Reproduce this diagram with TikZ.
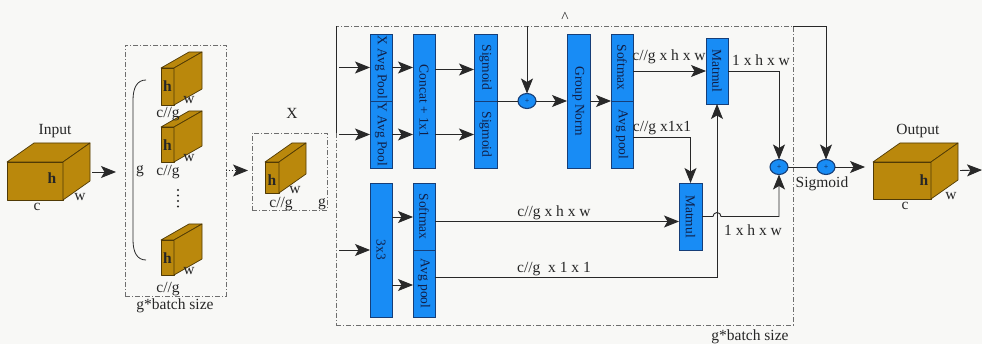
\documentclass[tikz,border=0pt]{standalone}
\usepackage{fontspec}
\setmainfont{Liberation Serif}
\usetikzlibrary{arrows.meta,shapes.geometric,calc}

\definecolor{bg}{RGB}{248,248,246}
\definecolor{blkfill}{RGB}{24,140,245}
\definecolor{blkline}{RGB}{22,62,120}
\definecolor{blktext}{RGB}{16,30,70}
\definecolor{gold}{RGB}{186,136,12}
\definecolor{goldline}{RGB}{80,58,5}
\definecolor{wire}{RGB}{40,40,40}
\definecolor{framec}{RGB}{110,110,110}

\tikzset{
  every node/.style={font=\fontsize{15.5}{17}\selectfont, text=black!85, inner sep=0pt},
  blk/.style={draw=blkline, fill=blkfill, line width=0.9pt, inner sep=0pt, outer sep=0pt},
  btxt/.style={rotate=-90, text=blktext, font=\fontsize{13.5}{14}\selectfont},
  sum/.style={ellipse, draw=blkline, fill=blkfill, line width=1.1pt,
    minimum width=18pt, minimum height=15pt, inner sep=0pt, outer sep=0pt,
    font=\fontsize{8}{8}\selectfont, text=blktext},
  wireline/.style={draw=wire, line width=0.9pt},
  tip/.style={-{Stealth[length=15pt,width=12pt,inset=3.5pt]}},
  arr/.style={wireline, tip},
  framebox/.style={draw=framec, line width=0.8pt, dash pattern=on 5pt off 2pt on 1pt off 2pt,
    inner sep=0pt, outer sep=0pt},
  face/.style={fill=gold, draw=goldline, line width=0.7pt, line join=round},
}

% cuboid: name, front face x1,y1,x2,y2, depth offset dx,dy
\newcommand\mycube[7]{%
  \node[face, rectangle, inner sep=0pt, outer sep=0pt,
    minimum width={#4-#2}, minimum height={#5-#3}] (#1) at ({(#2+#4)/2},{(#3+#5)/2}) {};
  \draw[face] (#1.north west) -- ++(#6,#7) -- ($(#1.north east)+(#6,#7)$) -- (#1.north east) -- cycle;
  \draw[face] (#1.north east) -- ++(#6,#7) -- ($(#1.south east)+(#6,#7)$) -- (#1.south east) -- cycle;
}
% processing block: name, x1,y1,x2,y2, vertical caption
\newcommand\blkbox[6]{%
  \node[blk, minimum width={#4-#2}, minimum height={#5-#3}] (#1) at ({(#2+#4)/2},{(#3+#5)/2}) {};
  \node[btxt] (#1-t) at (#1.center) {#6};
}

\begin{document}
\begin{tikzpicture}[x=1pt,y=-1pt]
\fill[bg] (0,0) rectangle (982,344);
\useasboundingbox (0,0) rectangle (982,344);

% ---------- input tensor ----------
\mycube{inc}{7}{162}{63}{200}{27}{-19}
\node (inlab) at (55,131) {Input};
\node (inh) at (52,178) {\textbf{h}};
\node (inc-c) at (37,207) {c};
\node (inw) at (80,197) {w};
\coordinate (inout) at ($(inc.east)+(29,-9)$);

% ---------- grouping ----------
\node[framebox, minimum width=101, minimum height=251] (grp) at (175.5,170.5) {};
\node (grplab) at (175,306) {g*batch size};
\mycube{g1}{161}{68}{174}{105}{28}{-16}
\mycube{g2}{161}{127}{174}{162}{28}{-16}
\mycube{g3}{161}{240}{174}{275}{28}{-16}
\node (g1h) at (167.5,86) {\textbf{h}};
\node (g1w) at (189,100) {w};
\node (g1c) at (168,114) {c//g};
\node (g2h) at (167.5,145) {\textbf{h}};
\node (g2w) at (189,158) {w};
\node (g2c) at (168,172) {c//g};
\node (g3h) at (167.5,258) {\textbf{h}};
\node (g3w) at (189,271) {w};
\node (g3c) at (168,289) {c//g};
\foreach \yy in {190,195.5,201,206.5} \fill[wire] (178,\yy) circle (1.1pt);
\draw[wire, line width=0.8pt] (146,80) .. controls (137,80) and (133,88) .. (133,100)
  -- (133,240) .. controls (133,252) and (137,260) .. (146,260);
\node (glab) at (140,171) {g};

% ---------- one group X ----------
\node[framebox, minimum width=75, minimum height=77] (Xbox) at (289.5,171.5) {};
\node (Xlab) at (292,113) {X};
\mycube{xc}{265}{162}{279}{193}{27}{-19}
\node (xh) at (272,180) {\textbf{h}};
\node (xw) at (295,190) {w};
\node (xcg) at (281,204) {c//g};
\node (xg) at (322,204) {g};

% ---------- attention module frame ----------
\node[framebox, minimum width=457, minimum height=299] (main) at (564.5,175.5) {};
\node (mainlab) at (750,337) {g*batch size};
\node (caret) at (565,17) {\^{}};

% ---------- blocks ----------
\blkbox{xap}{370}{34}{392}{101}{X Avg Pool}
\blkbox{yap}{370}{101}{392}{168}{Y Avg Pool}
\blkbox{cat}{413}{34}{435}{168}{Concat + 1x1}
\blkbox{sg1}{474}{34}{497}{101}{Sigmoid}
\blkbox{sg2}{474}{101}{497}{168}{Sigmoid}
\blkbox{gn}{567}{34}{590}{168}{Group Norm}
\blkbox{sm1}{611}{34}{633}{101}{Softmax}
\blkbox{ap1}{611}{101}{633}{168}{Avg pool}
\blkbox{mm1}{706}{38}{728}{104}{Matmul}
\blkbox{cv3}{370}{183}{392}{317}{3x3}
\blkbox{sm2}{413}{183}{435}{250}{Softmax}
\blkbox{ap2}{413}{250}{435}{317}{Avg pool}
\blkbox{mm2}{679}{183}{702}{250}{Matmul}

\node[sum] (c1) at (527,101) {+};
\node[sum] (c2) at (779,167) {+};
\node[sum] (c3s) at (826,167) {+};
\node (siglab) at (822,184) {Sigmoid};

% ---------- output tensor ----------
\mycube{outc}{873}{162}{931}{199}{27}{-19}
\node (outlab) at (918,131) {Output};
\node (outh) at (924,180) {\textbf{h}};
\node (outcc) at (905,206) {c};
\node (outw) at (951,196) {w};
\coordinate (outout) at ($(outc.east)+(29,-10)$);
\coordinate (exit) at (982,170);

% ---------- connectors ----------
\draw[arr, shorten >=9pt] (inout) -- (inout -| grp.west);
\draw[wireline, dotted, tip, shorten >=4pt] (grp.east) -- (grp.east -| Xbox.west);

% skip path leaving X along the frame
\draw[wireline] (Xbox.north east -| main.west) -- (main.north west);
\draw[arr] (main.north west -| c1) -- (c1.north);
\draw[arr] (main.north east) -| (c3s.north);

% bus into the branches
\draw[arr, shorten <=3pt] (xap.west -| main.west) -- (xap.west);
\draw[arr, shorten <=3pt] (yap.west -| main.west) -- (yap.west);
\draw[arr, shorten <=3pt] (cv3.west -| main.west) -- (cv3.west);

\draw[arr] (xap.east) -- (xap.east -| cat.west);
\draw[arr] (yap.east) -- (yap.east -| cat.west);
\draw[arr] ([yshift=-2pt]cat.east |- sg1.west) -- ([yshift=-2pt]sg1.west);
\draw[arr] (cat.east |- sg2.west) -- (sg2.west);
\draw[wireline] (sg1.south east) -- (c1.west);
\draw[arr] (c1.east) -- (c1.east -| gn.west);
\draw[arr] (gn.east |- sm1.south west) -- (sm1.south west);

\draw[arr] (mm1.west -| sm1.east) -- (mm1.west);
\node (l1) at (669,57) {c//g x h x w};
\draw[arr] ([yshift=-2.5pt]ap1.east) -| (mm2.north);
\node (l2) at (662,128) {c//g x1x1};

\draw[arr] ([yshift=-0.5pt]cv3.east |- sm2.west) -- ([yshift=-0.5pt]sm2.west);
\draw[arr] ([yshift=-1.5pt]cv3.east |- ap2.west) -- ([yshift=-1.5pt]ap2.west);
\draw[arr] ([yshift=-5pt]sm2.east) -- ([yshift=-5pt]mm2.west);
\node (l3) at (554,213) {c//g x h x w};
\draw[arr] ([yshift=6.5pt]ap2.east) -| (mm1.south);
\node (l4) at (554,269) {c//g\ \ x 1 x 1};

\draw[arr] (mm1.east) -| (c2.north);
\node (l5) at (761,60) {1 x h x w};
\draw[arr] (mm2.east) -- ($(mm2.east -| mm1.south)+(-4,0)$)
  arc[start angle=180, end angle=0, radius=4pt] -| (c2.south);
\node (l6) at (753,230) {1 x h x w};

\draw[wireline] (c2.east) -- (c3s.west);
\draw[arr, shorten >=8pt] (c3s.east) -- (c3s.east -| outc.west);
\draw[arr] (outout) -- (exit);
\end{tikzpicture}
\end{document}
